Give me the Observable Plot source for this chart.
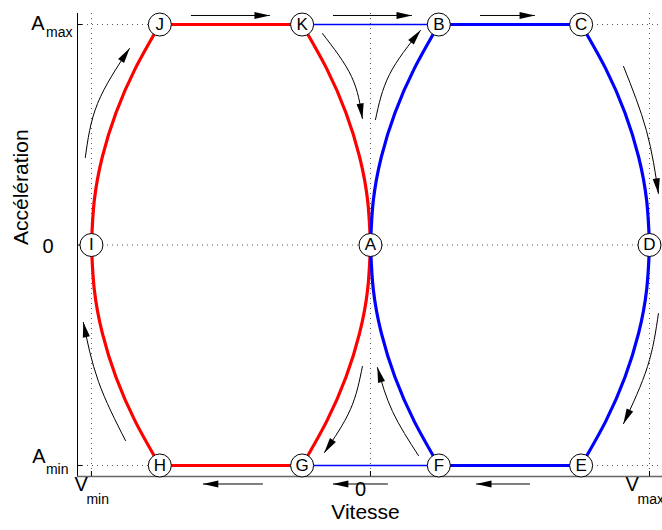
<!DOCTYPE html>
<html>
<head>
<meta charset="utf-8">
<script src="https://cdn.jsdelivr.net/npm/d3@7"></script>
<script src="https://cdn.jsdelivr.net/npm/@observablehq/plot@0.6"></script>
<style>
  html, body { margin: 0; padding: 0; background: white; overflow: hidden; }
</style>
</head>
<body>
<div id="chart"></div>
<script>
// ---- Tick values and labels ----
const xTicks = [-1, 0, 1];
const xTickMain = ["V", "0", "V"];
const xTickSub = ["min", "", "max"];
const yTicks = [1, 0, -1];
const yTickMain = ["A", "0", "A"];
const yTickSub = ["max", "", "min"];
const xTitle = "Vitesse";
const yTitle = "Accélération";

// ---- Labelled states (velocity, acceleration) ----
const pointNames = ["A", "B", "C", "D", "E", "F", "G", "H", "I", "J", "K"];
const pointV = [0, 0.245, 0.755, 1, 0.755, 0.245, -0.245, -0.755, -1, -0.755, -0.245];
const pointA = [0, 1, 1, 0, -1, -1, -1, -1, 0, 1, 1];

// ---- Red trajectory pieces [v, a] ----
const arcIJ = [[-1, 0], [-0.99, 0.2], [-0.961, 0.4], [-0.912, 0.6], [-0.843, 0.8], [-0.755, 1]];
const flatJK = [[-0.755, 1], [-0.245, 1]];
const arcKA = [[-0.245, 1], [-0.157, 0.8], [-0.088, 0.6], [-0.039, 0.4], [-0.01, 0.2], [0, 0]];
const arcAG = [[0, 0], [-0.01, -0.2], [-0.039, -0.4], [-0.088, -0.6], [-0.157, -0.8], [-0.245, -1]];
const flatGH = [[-0.245, -1], [-0.755, -1]];
const arcHI = [[-0.755, -1], [-0.843, -0.8], [-0.912, -0.6], [-0.961, -0.4], [-0.99, -0.2], [-1, 0]];

// ---- Blue trajectory pieces [v, a] ----
const arcAB = [[0, 0], [0.01, 0.2], [0.039, 0.4], [0.088, 0.6], [0.157, 0.8], [0.245, 1]];
const flatBC = [[0.245, 1], [0.755, 1]];
const arcCD = [[0.755, 1], [0.843, 0.8], [0.912, 0.6], [0.961, 0.4], [0.99, 0.2], [1, 0]];
const arcDE = [[1, 0], [0.99, -0.2], [0.961, -0.4], [0.912, -0.6], [0.843, -0.8], [0.755, -1]];
const flatEF = [[0.755, -1], [0.245, -1]];
const arcFA = [[0.245, -1], [0.157, -0.8], [0.088, -0.6], [0.039, -0.4], [0.01, -0.2], [0, 0]];
// thin blue links
const thinKB = [[-0.245, 1], [0.245, 1]];
const thinGF = [[-0.245, -1], [0.245, -1]];

// ---- Direction arrows [v, a] ----
const arrowJK = [[-0.642, 1.041], [-0.362, 1.041]];
const arrowKB = [[-0.133, 1.041], [0.147, 1.041]];
const arrowBC = [[0.394, 1.041], [0.588, 1.041]];
const arrowEF = [[0.570, -1.084], [0.380, -1.084]];
const arrowFG = [[0.061, -1.084], [-0.133, -1.084]];
const arrowGH = [[-0.387, -1.084], [-0.599, -1.084]];
const arrowIJ = [[-1.022, 0.397], [-0.978, 0.642], [-0.864, 0.891]];
const arrowKA = [[-0.172, 0.959], [-0.068, 0.764], [-0.029, 0.574]];
const arrowAB = [[0.018, 0.569], [0.068, 0.773], [0.179, 0.973]];
const arrowCD = [[0.907, 0.810], [0.989, 0.519], [1.032, 0.234]];
const arrowDE = [[1.032, -0.311], [0.993, -0.551], [0.907, -0.810]];
const arrowFA = [[0.172, -0.955], [0.079, -0.755], [0.025, -0.556]];
const arrowAG = [[-0.029, -0.551], [-0.072, -0.746], [-0.165, -0.941]];
const arrowHI = [[-0.878, -0.887], [-0.975, -0.619], [-1.029, -0.351]];

// ---- Build tables ----
function rows(id, pts) { return pts.map(([v, a]) => ({id, v, a})); }
const redRows = [
  ...rows("IJ", arcIJ), ...rows("JK", flatJK), ...rows("KA", arcKA),
  ...rows("AG", arcAG), ...rows("GH", flatGH), ...rows("HI", arcHI)
];
const blueRows = [
  ...rows("AB", arcAB), ...rows("BC", flatBC), ...rows("CD", arcCD),
  ...rows("DE", arcDE), ...rows("EF", flatEF), ...rows("FA", arcFA)
];
const thinRows = [...rows("KB", thinKB), ...rows("GF", thinGF)];
const arrowRows = [
  ...rows("aJK", arrowJK), ...rows("aKB", arrowKB), ...rows("aBC", arrowBC),
  ...rows("aEF", arrowEF), ...rows("aFG", arrowFG), ...rows("aGH", arrowGH),
  ...rows("aIJ", arrowIJ), ...rows("aKA", arrowKA), ...rows("aAB", arrowAB),
  ...rows("aCD", arrowCD), ...rows("aDE", arrowDE), ...rows("aFA", arrowFA),
  ...rows("aAG", arrowAG), ...rows("aHI", arrowHI)
];
const points = pointNames.map((name, i) => ({name, v: pointV[i], a: pointA[i]}));

function arrowHead(color) {
  const m = d3.create("svg:marker")
    .attr("viewBox", "-16 -5 17 10")
    .attr("markerWidth", 17).attr("markerHeight", 10)
    .attr("markerUnits", "userSpaceOnUse")
    .attr("orient", "auto")
    .attr("refX", 0).attr("refY", 0)
    .attr("overflow", "visible");
  m.append("path").attr("d", "M-15,-3.6L0.5,0L-15,3.6Z").attr("fill", "black").attr("stroke", "none");
  return m.node();
}

const font = "'Liberation Sans', Arial, Helvetica, sans-serif";

function build(marker) {
  return Plot.plot({
    width: 662,
    height: 530,
    marginLeft: 77,
    marginRight: 0,
    marginTop: 13,
    marginBottom: 54,
    x: {domain: [-1.05, 1.0466]},
    y: {domain: [-1.05, 1.05]},
    style: {fontFamily: font, background: "white", overflow: "visible"},
    marks: [
      // dotted grid
      Plot.ruleX(xTicks, {stroke: "#555", strokeWidth: 1, strokeDasharray: "1,4"}),
      Plot.ruleY(yTicks, {stroke: "#555", strokeWidth: 1, strokeDasharray: "1,4"}),
      // axis lines
      Plot.ruleX([-1.05], {stroke: "black", strokeWidth: 1}),
      Plot.ruleY([-1.05], {stroke: "#666", strokeWidth: 1.3}),
      // inward ticks
      Plot.axisX({ticks: xTicks, tickSize: 5, dy: -5, tickFormat: () => "", label: null, stroke: "black"}),
      Plot.axisY({ticks: yTicks, tickSize: 5, dx: 5, tickFormat: () => "", label: null, stroke: "black"}),
      // thin blue links
      Plot.line(thinRows, {x: "v", y: "a", z: "id", stroke: "#0000ff", strokeWidth: 1.6}),
      // thick trajectories
      Plot.line(redRows, {x: "v", y: "a", z: "id", stroke: "#ff0000", strokeWidth: 3.2, curve: "natural", strokeLinecap: "round"}),
      Plot.line(blueRows, {x: "v", y: "a", z: "id", stroke: "#0000ff", strokeWidth: 3.2, curve: "natural", strokeLinecap: "round"}),
      // arrows
      Plot.line(arrowRows, {x: "v", y: "a", z: "id", stroke: "black", strokeWidth: 1, curve: "natural", markerEnd: marker}),
      // state markers
      Plot.dot(points, {x: "v", y: "a", r: 11.5, fill: "white", stroke: "black", strokeWidth: 1}),
      Plot.text(points, {x: "v", y: "a", text: "name", fontSize: 17, fill: "black"}),
      // y tick labels
      Plot.text([{t: yTickMain[0], y: yTicks[0]}], {y: "y", text: "t", frameAnchor: "left", textAnchor: "end", dx: -33, dy: -1.3, fontSize: 20}),
      Plot.text([{t: yTickSub[0], y: yTicks[0]}], {y: "y", text: "t", frameAnchor: "left", textAnchor: "end", dx: -5, dy: 7.8, fontSize: 14}),
      Plot.text([{t: yTickMain[1], y: yTicks[1]}], {y: "y", text: "t", frameAnchor: "left", textAnchor: "end", dx: -24, dy: 1.5, fontSize: 20}),
      Plot.text([{t: yTickMain[2], y: yTicks[2]}], {y: "y", text: "t", frameAnchor: "left", textAnchor: "end", dx: -32, dy: -8.7, fontSize: 20}),
      Plot.text([{t: yTickSub[2], y: yTicks[2]}], {y: "y", text: "t", frameAnchor: "left", textAnchor: "end", dx: -9, dy: 4.4, fontSize: 14}),
      // x tick labels
      Plot.text([{t: xTickMain[0], x: xTicks[0]}], {x: "x", text: "t", frameAnchor: "bottom", textAnchor: "start", dx: -17, dy: 14.3, fontSize: 20}),
      Plot.text([{t: xTickSub[0], x: xTicks[0]}], {x: "x", text: "t", frameAnchor: "bottom", textAnchor: "start", dx: -5, dy: 27.5, fontSize: 14}),
      Plot.text([{t: xTickMain[1], x: xTicks[1]}], {x: "x", text: "t", frameAnchor: "bottom", textAnchor: "middle", dx: -10, dy: 19.3, fontSize: 20}),
      Plot.text([{t: xTickMain[2], x: xTicks[2]}], {x: "x", text: "t", frameAnchor: "bottom", textAnchor: "start", dx: -24, dy: 14.3, fontSize: 20}),
      Plot.text([{t: xTickSub[2], x: xTicks[2]}], {x: "x", text: "t", frameAnchor: "bottom", textAnchor: "start", dx: -12, dy: 27.5, fontSize: 14}),
      // axis titles
      Plot.text([xTitle], {frameAnchor: "bottom", dx: -4.5, dy: 42.3, fontSize: 21}),
      Plot.text([yTitle], {frameAnchor: "left", rotate: -90, dx: -56, fontSize: 21})
    ]
  });
}

let chart;
try { chart = build(arrowHead); } catch (e) { console.error(e); chart = build("arrow"); }
document.getElementById("chart").append(chart);
</script>
</body>
</html>
